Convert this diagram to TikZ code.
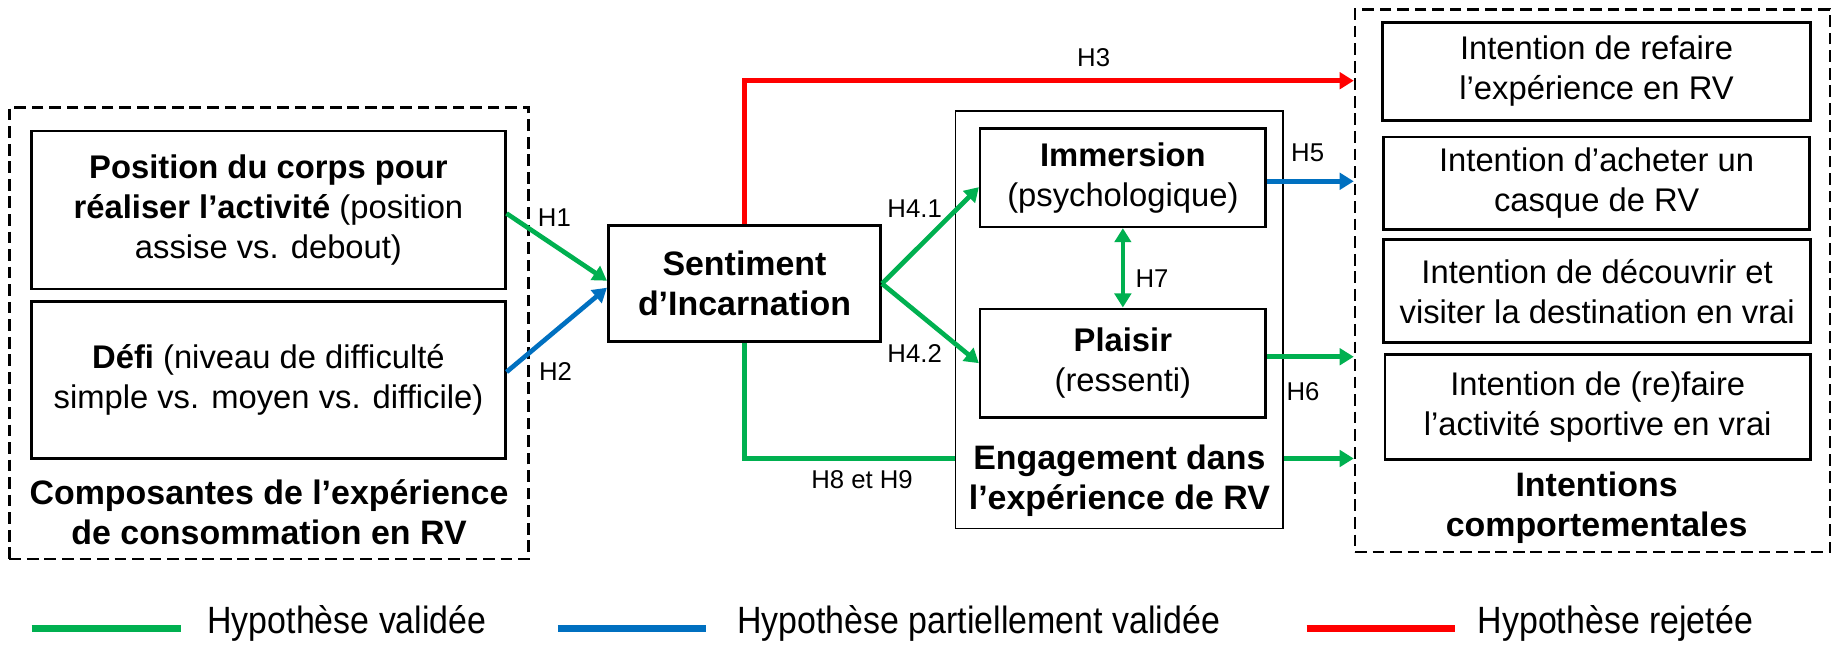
\documentclass[tikz,border=0pt]{standalone}
\usepackage{fontspec}
\usepackage{graphicx}
\setmainfont{Liberation Sans}
\usetikzlibrary{arrows.meta,calc}
\definecolor{cgreen}{RGB}{0,176,80}
\definecolor{cblue}{RGB}{0,112,192}
\definecolor{cred}{RGB}{255,0,0}
\begin{document}
\begin{tikzpicture}[x=0.5pt,y=-0.5pt,
 box/.style={draw,line width=1.1pt,align=center,inner sep=0pt,font=\fontsize{14}{17}\selectfont},
 dbox/.style={draw,dash pattern=on 5pt off 2.5pt,line width=1.1pt,inner sep=0pt},
 ttl/.style={align=center,font=\fontsize{14.5}{17}\selectfont\bfseries},
 arr/.style={line width=2pt,-{Triangle[length=6pt,width=7pt]}},
 lab/.style={font=\fontsize{11}{13}\selectfont,inner sep=1pt},
 leg/.style={line width=3pt},
 legt/.style={anchor=west,inner sep=0pt,font=\fontsize{14.5}{17}\selectfont},
]
\useasboundingbox (0,0) rectangle (1568,551);
% left group
\node[dbox,minimum width=222pt,minimum height=193pt] (L) at (230,285) {};
\node[box,minimum width=202.5pt,minimum height=67.5pt] (pos) at (229.5,179.5) {\textbf{Position du corps pour}\\\textbf{réaliser l’activité} (position\\assise vs. debout)};
\node[box,minimum width=202.5pt,minimum height=67pt] (defi) at (229.5,325) {\textbf{Défi} (niveau de difficulté\\simple vs. moyen vs. difficile)};
\node[ttl] (Lt) at (230,438) {Composantes de l’expérience\\de consommation en RV};
% centre
\node[box,font=\fontsize{14.5}{17}\selectfont\bfseries,minimum width=116.5pt,minimum height=49.5pt] (sent) at (636.5,242.5) {Sentiment\\d’Incarnation};
\node[draw,line width=0.6pt,minimum width=140pt,minimum height=178.5pt,inner sep=0pt] (eng) at (957,273.5) {};
\node[box,minimum width=122pt,minimum height=42pt] (imm) at (960,152) {\textbf{Immersion}\\(psychologique)};
\node[box,minimum width=122pt,minimum height=46.5pt] (pla) at (960,310.5) {\textbf{Plaisir}\\(ressenti)};
\node[ttl] (engt) at (957,411) {Engagement dans\\l’expérience de RV};
% right group
\node[dbox,minimum width=203pt,minimum height=232pt] (R) at (1361.5,240) {};
\node[box,minimum width=183pt,minimum height=42pt] (i1) at (1365,61) {Intention de refaire\\l’expérience en RV};
\node[box,minimum width=182pt,minimum height=39.5pt] (i2) at (1365,156.5) {Intention d’acheter un\\casque de RV};
\node[box,minimum width=182.5pt,minimum height=44pt] (i3) at (1365.5,249) {Intention de découvrir et\\visiter la destination en vrai};
\node[box,minimum width=182pt,minimum height=45pt] (i4) at (1366,348) {Intention de (re)faire\\l’activité sportive en vrai};
\node[ttl] (Rt) at (1365,434) {Intentions\\comportementales};
% helper levels
\coordinate (yH3) at (0,69);
\coordinate (yH5) at (0,155);
\coordinate (yH6) at (0,305);
\coordinate (yH8) at (0,392);
% connectors
\draw[arr,cgreen] ($(pos.east)+(0,3)$) -- ($(sent.west)+(0,-2.5)$);
\draw[arr,cblue] ($(defi.east)+(0,-7)$) -- ($(sent.west)+(0,3.5)$);
\draw[arr,cred] (sent.north) |- (R.west |- yH3);
\draw[arr,cgreen] (sent.east) -- ($(imm.west)+(0,8)$);
\draw[arr,cgreen] (sent.east) -- (pla.west);
\draw[arr,cblue] (imm.east |- yH5) -- (R.west |- yH5);
\draw[arr,cgreen] (pla.east |- yH6) -- (R.west |- yH6);
\draw[line width=2pt,cgreen,{Triangle[length=6pt,width=7pt]}-{Triangle[length=6pt,width=7pt]}] (imm.south) -- (pla.north);
\draw[line width=2pt,cgreen] (sent.south) |- (eng.west |- yH8);
\draw[arr,cgreen] (eng.east |- yH8) -- (R.west |- yH8);
% labels
\node[lab] (lH1) at (474,186) {H1};
\node[lab] (lH2) at (475,318) {H2};
\node[lab] (lH3) at (935,49) {H3};
\node[lab] (lH41) at (782,178) {H4.1};
\node[lab] (lH42) at (782,302) {H4.2};
\node[lab] (lH5) at (1118,131) {H5};
\node[lab] (lH6) at (1114,335) {H6};
\node[lab] (lH7) at (985,238) {H7};
\node[lab] (lH8) at (737,410) {H8 et H9};
% legend
\draw[leg,cgreen] (27,537) -- (155,537);
\node[legt] (t1) at (177,533) {\scalebox{1}[1.12]{Hypothèse validée}};
\draw[leg,cblue] (477,537) -- (604,537);
\node[legt] (t2) at (630,533) {\scalebox{1}[1.12]{Hypothèse partiellement validée}};
\draw[leg,cred] (1117,537) -- (1244,537);
\node[legt] (t3) at (1263,533) {\scalebox{1}[1.12]{Hypothèse rejetée}};
\end{tikzpicture}
\end{document}
